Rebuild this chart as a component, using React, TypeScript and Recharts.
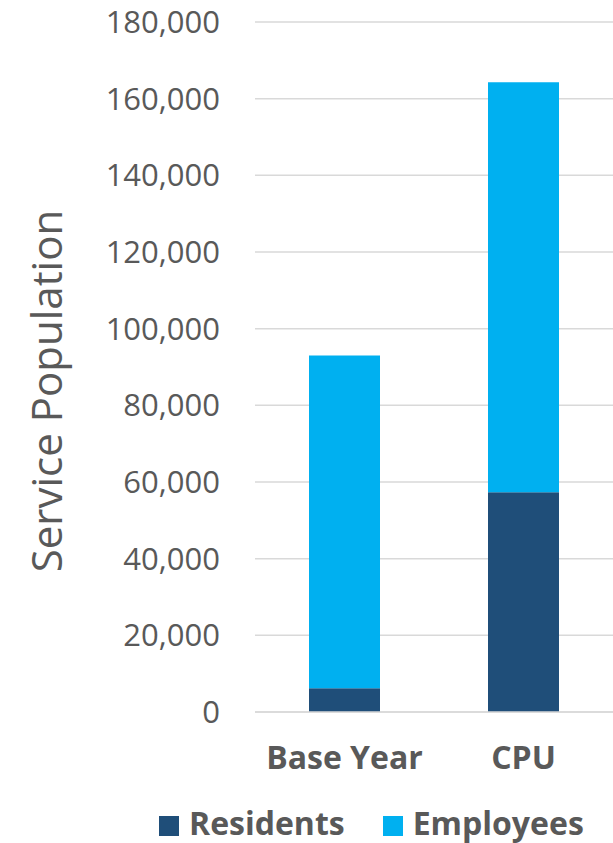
import { BarChart, Bar, XAxis, YAxis, CartesianGrid, Legend } from "recharts";

const categories = ["Base Year", "CPU"];
const residents = [6200, 57300];
const employees = [86800, 107000];
const yTicks = [0, 20000, 40000, 60000, 80000, 100000, 120000, 140000, 160000, 180000];

const chartData = categories.map((name, i) => ({
  name,
  residents: residents[i],
  employees: employees[i],
}));

const FONT = "'Open Sans', sans-serif";
const TEXT = "#595959";

const series = [
  { key: "residents", label: "Residents", color: "#1F4E79" },
  { key: "employees", label: "Employees", color: "#00B0F0" },
];

function LegendBox() {
  return (
    <div
      style={{
        display: "flex",
        alignItems: "flex-start",
        height: 46,
        boxSizing: "border-box",
        paddingTop: 10,
        paddingLeft: 9,
        fontFamily: FONT,
      }}
    >
      {series.map((s, i) => (
        <div key={s.key} style={{ display: "flex", alignItems: "flex-start", marginLeft: i ? 38 : 0 }}>
          <span
            style={{ width: 20, height: 20, background: s.color, display: "inline-block", marginRight: 10, marginTop: 9 }}
          />
          <span style={{ fontSize: 32, fontWeight: 700, color: TEXT, lineHeight: "32px" }}>{s.label}</span>
        </div>
      ))}
    </div>
  );
}

export default function App() {
  return (
    <div style={{ position: "absolute", left: 0, top: 0, width: 613, height: 843, background: "#fff" }}>
      <BarChart
        width={613}
        height={843}
        data={chartData}
        margin={{ top: 22, right: 0, left: 0, bottom: 0 }}
        barSize={71}
      >
        <CartesianGrid vertical={false} stroke="#D9D9D9" strokeWidth={1.5} />
        <XAxis
          dataKey="name"
          height={85}
          axisLine={{ stroke: "#D9D9D9", strokeWidth: 1.5 }}
          tickLine={false}
          tickSize={0}
          tickMargin={34}
          tick={{ fill: TEXT, fontSize: 32, fontWeight: 700, fontFamily: FONT }}
        />
        <YAxis
          width={255}
          domain={[0, 180000]}
          ticks={yTicks}
          interval={0}
          axisLine={false}
          tickLine={false}
          tickSize={0}
          tickMargin={35}
          tickFormatter={(v: number) => v.toLocaleString("en-US")}
          tick={{ fill: TEXT, fontSize: 31, fontFamily: FONT }}
          label={() => (
            <text
              x={62}
              y={391}
              transform="rotate(-90, 62, 391)"
              textAnchor="middle"
              fill={TEXT}
              fontSize={42}
              fontFamily={FONT}
            >
              Service Population
            </text>
          )}
        />
        <Legend
          verticalAlign="bottom"
          content={() => <LegendBox />}
          wrapperStyle={{ left: 150, bottom: 0, width: 463 }}
        />
        {series.map((s) => (
          <Bar key={s.key} dataKey={s.key} name={s.label} stackId="a" fill={s.color} isAnimationActive={false} />
        ))}
      </BarChart>
    </div>
  );
}
